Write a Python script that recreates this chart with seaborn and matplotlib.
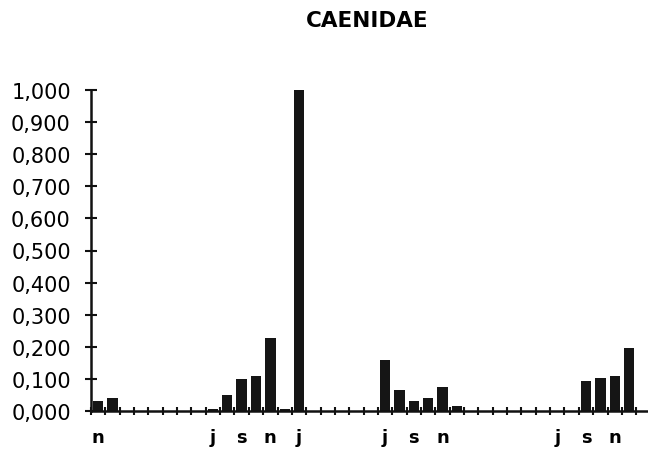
import numpy as np
import pandas as pd
import matplotlib
matplotlib.use("Agg")
import matplotlib.pyplot as plt
import seaborn as sns

# Monthly series, November through December three years later
months = ["n", "d",
          "j", "f", "m", "a", "m", "j", "j", "a", "s", "o", "n", "d",
          "j", "f", "m", "a", "m", "j", "j", "a", "s", "o", "n", "d",
          "j", "f", "m", "a", "m", "j", "j", "a", "s", "o", "n", "d"]
values = [0.032, 0.040,
          0.0, 0.0, 0.0, 0.0, 0.0, 0.0, 0.006, 0.050, 0.100, 0.108, 0.226, 0.007,
          1.000, 0.0, 0.0, 0.0, 0.0, 0.0, 0.159, 0.066, 0.032, 0.041, 0.074, 0.015,
          0.0, 0.0, 0.0, 0.0, 0.0, 0.0, 0.0, 0.0, 0.093, 0.102, 0.110, 0.195]
# Months that carry a letter under the axis
labelled_slots = [0, 8, 10, 12, 14, 20, 22, 24, 32, 34, 36]
y_ticks = [0.0, 0.1, 0.2, 0.3, 0.4, 0.5, 0.6, 0.7, 0.8, 0.9, 1.0]

df = pd.DataFrame({"slot": [str(i) for i in range(len(values))], "value": values})

sns.set_style("white")
plt.rcParams["font.family"] = ["DejaVu Sans"]
plt.rcParams["text.color"] = "black"
plt.rcParams["xtick.color"] = "black"
plt.rcParams["ytick.color"] = "black"

fig = plt.figure(figsize=(6.48, 4.52), dpi=100)
ax = fig.add_axes([91 / 648, 40 / 452, 556 / 648, 321 / 452])

sns.barplot(data=df, x="slot", y="value", order=df["slot"], color="#151515",
            saturation=1, width=0.72, linewidth=0, ax=ax)

n = len(values)
ax.set_xlim(-0.5, n + 0.25)
ax.set_ylim(0, 1.0)

for side in ["top", "right"]:
    ax.spines[side].set_visible(False)
for side in ["left", "bottom"]:
    ax.spines[side].set_linewidth(1.8)
    ax.spines[side].set_color("#111111")

# Slot boundaries as crossing ticks on the x axis
ax.set_xticks(np.arange(n + 1) - 0.5)
ax.set_xticklabels([])
ax.tick_params(axis="x", which="major", direction="inout", length=6, width=1.5,
               color="#111111", bottom=True)
ax.set_xticks(labelled_slots, minor=True)
ax.set_xticklabels([months[i] for i in labelled_slots], minor=True,
                   fontsize=13, fontweight="bold", color="black")
ax.tick_params(axis="x", which="minor", length=0, pad=12)

ax.set_yticks(y_ticks)
ax.set_yticklabels([f"{v:.3f}".replace(".", ",") for v in y_ticks], fontsize=15,
                   color="black")
ax.tick_params(axis="y", direction="inout", length=9, width=1.5,
               color="#111111", pad=10, left=True)

ax.set_xlabel("")
ax.set_ylabel("")

fig.text(367 / 648, 1 - 21 / 452, "CAENIDAE", ha="center", va="center",
         fontsize=15.5, fontweight="bold", color="black")

fig.savefig("out.png", dpi=100)
